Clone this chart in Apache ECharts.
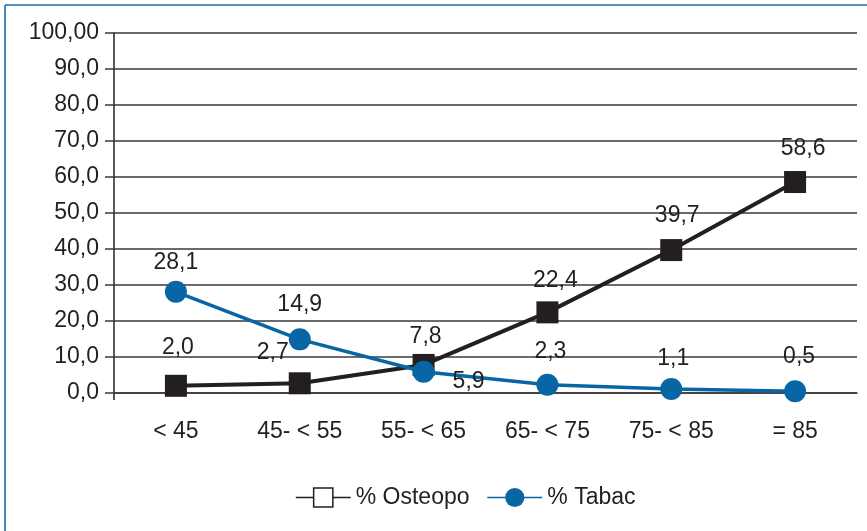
<!DOCTYPE html>
<html>
<head>
<meta charset="utf-8">
<script src="https://cdn.jsdelivr.net/npm/echarts@6/dist/echarts.min.js"></script>
<style>
  html, body { margin: 0; padding: 0; background: #fff; }
  #chart { width: 867px; height: 531px; }
</style>
</head>
<body>
<div id="chart"></div>
<script>
// Age groups and percentages per group
var ageGroups = ['< 45', '45- < 55', '55- < 65', '65- < 75', '75- < 85', '= 85'];
var osteopo = [2.0, 2.7, 7.8, 22.4, 39.7, 58.6];
var tabac = [28.1, 14.9, 5.9, 2.3, 1.1, 0.5];
var yTicks = ['0,0', '10,0', '20,0', '30,0', '40,0', '50,0', '60,0', '70,0', '80,0', '90,0', '100,00'];

// Label placement relative to each marker centre, in pixels [dx, dy]
var osteopoLabelShift = [[2, -38], [-27, -31], [2, -28], [8, -32], [6, -34], [8, -33]];
var tabacLabelShift = [[0, -29], [0, -35], [45, 10], [3, -33], [2, -30], [4, -35]];

var ink = '#231f20';
var blue = '#0866a5';
var fontFamily = '"Liberation Sans", Arial, Helvetica, sans-serif';
var fontSize = 23;

function fmt(v) { return v.toFixed(1).replace('.', ','); }

function buildPoints(values, shifts) {
  return values.map(function (v, i) {
    return {
      value: v,
      label: { offset: shifts[i] }
    };
  });
}

var chart = echarts.init(document.getElementById('chart'), null, { renderer: 'canvas' });

chart.setOption({
  backgroundColor: '#ffffff',
  animation: false,
  textStyle: { fontFamily: fontFamily },
  grid: { left: 114, right: 10, top: 33, bottom: 138, containLabel: false },
  graphic: [
    // frame along the top and left edges
    { type: 'line', shape: { x1: 5, y1: 5, x2: 867, y2: 5 }, style: { stroke: '#1f6dab', lineWidth: 1.6 } },
    { type: 'line', shape: { x1: 5, y1: 5, x2: 5, y2: 531 }, style: { stroke: '#1f6dab', lineWidth: 1.6 } },
    // value axis runs a little past the zero line
    { type: 'line', shape: { x1: 114, y1: 393, x2: 114, y2: 400 }, style: { stroke: ink, lineWidth: 1.5 } }
  ],
  xAxis: {
    type: 'category',
    data: ageGroups,
    boundaryGap: true,
    axisLine: { show: true, lineStyle: { color: '#3a3a3a', width: 1.5 } },
    axisTick: { show: false },
    axisLabel: { color: ink, fontSize: fontSize, margin: 27, fontFamily: fontFamily },
    splitLine: { show: false }
  },
  yAxis: {
    type: 'value',
    min: 0,
    max: 100,
    interval: 10,
    axisLine: { show: true, lineStyle: { color: ink, width: 1.5 } },
    axisTick: { show: true, length: 9, lineStyle: { color: '#3a3a3a', width: 1.5 } },
    axisLabel: {
      color: ink,
      fontSize: fontSize,
      margin: 15,
      fontFamily: fontFamily,
      formatter: function (v) { return yTicks[Math.round(v / 10)]; }
    },
    splitLine: { show: true, lineStyle: { color: '#3a3a3a', width: 1.5 } }
  },
  legend: {
    left: 290,
    top: 481,
    itemWidth: 55,
    itemHeight: 24,
    itemGap: 17,
    textStyle: { color: ink, fontSize: fontSize, fontFamily: fontFamily },
    data: [
      {
        name: '% Osteopo',
        itemStyle: { color: '#ffffff', borderColor: ink, borderWidth: 1.5 },
        lineStyle: { color: ink, width: 1.5 }
      },
      {
        name: '% Tabac',
        itemStyle: { color: blue },
        lineStyle: { color: blue, width: 1.5 }
      }
    ]
  },
  series: [
    {
      name: '% Osteopo',
      type: 'line',
      data: buildPoints(osteopo, osteopoLabelShift),
      symbol: 'rect',
      symbolSize: 22,
      lineStyle: { color: ink, width: 4 },
      itemStyle: { color: ink },
      label: {
        show: true,
        position: 'inside',
        color: ink,
        fontSize: fontSize,
        fontFamily: fontFamily,
        formatter: function (p) { return fmt(p.value); }
      },
      z: 2
    },
    {
      name: '% Tabac',
      type: 'line',
      data: buildPoints(tabac, tabacLabelShift),
      symbol: 'circle',
      symbolSize: 22,
      lineStyle: { color: blue, width: 3.5 },
      itemStyle: { color: blue },
      label: {
        show: true,
        position: 'inside',
        color: ink,
        fontSize: fontSize,
        fontFamily: fontFamily,
        formatter: function (p) { return fmt(p.value); }
      },
      z: 3
    }
  ]
});
</script>
</body>
</html>
